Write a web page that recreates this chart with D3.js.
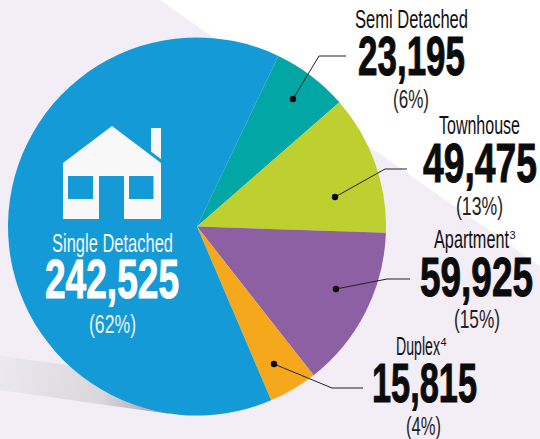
<!DOCTYPE html>
<html><head><meta charset="utf-8">
<script src="https://cdn.jsdelivr.net/npm/d3@7/dist/d3.min.js"></script>
<style>html,body{margin:0;padding:0;background:#fff}svg{display:block}</style></head>
<body><svg id="c" width="540" height="439"></svg>
<script>
const categories = ["Semi Detached","Townhouse","Apartment","Duplex","Single Detached"];
const dwellingCounts = [23195,49475,59925,15815,242525];
const percentLabels = ["(6%)","(13%)","(15%)","(4%)","(62%)"];
const footnotes = ["","","3","4",""];
// Slice sizes as actually drawn in the picture, in degrees
const drawnDegrees = [23.4,43,50,15,228.6];
const colors = ["#02a6a4","#bdd030","#8d5fa3","#f5a81c","#149ad6"];
const startDeg = 25.5;

const svg = d3.select("#c");
const W=540,H=439,cx=197,cy=226.5,R=189;
const defs = svg.append("defs");
const g = defs.append("linearGradient").attr("id","sh").attr("gradientUnits","userSpaceOnUse")
 .attr("x1",0).attr("y1",365).attr("x2",160).attr("y2",405);
g.append("stop").attr("offset",0).attr("stop-color","#ece8ef");
g.append("stop").attr("offset",.65).attr("stop-color","#d9d6dc");
g.append("stop").attr("offset",1).attr("stop-color","#a9a7ad");

svg.append("rect").attr("width",W).attr("height",H).attr("fill","#fff");
svg.append("path").attr("d",d3.line()([[0,0],[160,0],[540,266],[540,439],[0,439]])).attr("fill","#f3edf6");
svg.append("path").attr("d",d3.line()([[0,356],[75,366],[170,414],[0,390]])).attr("fill","url(#sh)");

const pie = d3.pie().sort(null).value(d=>d)
  .startAngle(startDeg*Math.PI/180).endAngle((startDeg+360)*Math.PI/180);
const arc = d3.arc().innerRadius(0).outerRadius(R);
svg.append("g").attr("transform",`translate(${cx},${cy})`)
  .selectAll("path").data(pie(drawnDegrees)).join("path").attr("d",arc).attr("fill",(d,i)=>colors[i]);

// house icon
const house = svg.append("g").attr("fill","#f8f8f8");
house.append("path").attr("d","M63 163L112 126L161 163V219H124V176H99V219H63Z");
house.append("path").attr("d","M151 128H161V159L151 151.5Z");
house.append("rect").attr("x",68).attr("y",176).attr("width",25).attr("height",23).attr("fill",colors[4]);
house.append("rect").attr("x",129).attr("y",176).attr("width",24.5).attr("height",23).attr("fill",colors[4]);

const fmt = d3.format(",");
const narrow = "'Liberation Sans Narrow','Liberation Sans',sans-serif";
const layout = [
 {nm:[355,28,113],num:[358,75,107],pct:[393,108,36]},
 {nm:[439,134,81],num:[423,182,114],pct:[456,215,47]},
 {nm:[434,248,81],num:[420,296,113],pct:[454,328,46]},
 {nm:[396,355,50],num:[372,402,105],pct:[406,435,35]},
 {nm:[52,252,121],num:[45,298,134],pct:[89,333,47]}
];
const leaders = [
 [[293,99],[319,56],[346,56]],
 [[335,197],[385,169],[407,169]],
 [[336,289],[387,279],[410,279]],
 [[274,364],[332,388],[363,388]]
];
const txt=(s,[x,y,w],size,weight,fill,extra)=>{
 const t=svg.append("text").attr("x",x).attr("y",y).attr("font-family",narrow)
  .attr("font-size",size).attr("font-weight",weight).attr("fill",fill)
  .attr("textLength",w).attr("lengthAdjust","spacingAndGlyphs").text(s);
 if(extra) extra(t);
 return t;
};
categories.forEach((c,i)=>{
 const col = i===4?"#f4f6f8":"#111";
 const L=layout[i];
 const nameW = footnotes[i]? L.nm[2]-6 : L.nm[2];
 txt(c,[L.nm[0],L.nm[1],nameW],26,"normal",col);
 if(footnotes[i]) svg.append("text").attr("x",L.nm[0]+nameW+0.5).attr("y",L.nm[1]-9)
   .attr("font-family",narrow).attr("font-size",11).attr("fill",col).text(footnotes[i]);
 txt(fmt(dwellingCounts[i]),L.num,55,"bold",i===4?"#fff":"#0b0b0b",t=>t.attr("stroke",i===4?"#fff":"#0b0b0b").attr("stroke-width",1));
 txt(percentLabels[i],L.pct,26,"normal",i===4?"#e8f2f8":"#222");
 if(i<4){
  svg.append("path").attr("d",d3.line()(leaders[i])).attr("fill","none").attr("stroke","#222").attr("stroke-width",1);
  svg.append("circle").attr("cx",leaders[i][0][0]).attr("cy",leaders[i][0][1]).attr("r",3.2).attr("fill","#0a0a0a");
 }
});
</script></body></html>
